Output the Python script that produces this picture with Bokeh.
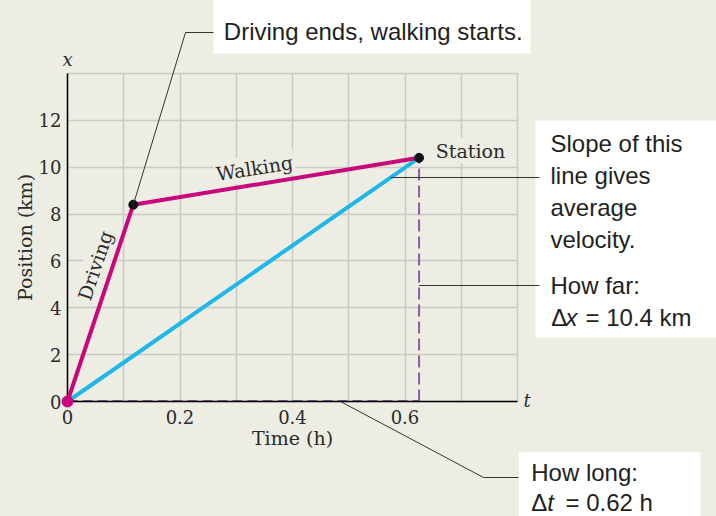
from bokeh.plotting import figure
from bokeh.models import Range1d, FixedTicker, Label, GlobalInlineStyleSheet
from bokeh.core.properties import value
from bokeh.embed import file_html
from bokeh.resources import INLINE

# ---- data ----
trip_t = [0.0, 0.117, 0.625]      # time (h): start, driving ends, station
trip_x = [0.0, 8.4, 10.4]         # position (km)
x_ticks = [0, 0.2, 0.4, 0.6]
x_tick_labels = ["0", "0.2", "0.4", "0.6"]
y_ticks = [0, 2, 4, 6, 8, 10, 12]
x_grid = [0.1, 0.2, 0.3, 0.4, 0.5, 0.6, 0.7]
y_grid = [2, 4, 6, 8, 10, 12]

BG = "#edede3"
GRID = "#c9c9c5"
MAGENTA = "#c8077b"
CYAN = "#1db8e8"
PURPLE = "#8c5aab"
INK = "#231f20"
AXINK = "#2a2a2a"
SERIF = "DejaVu Serif"
SANS = "Liberation Sans"

p = figure(width=716, height=516, x_range=Range1d(0, 0.8), y_range=Range1d(0, 14),
           output_backend="svg", toolbar_location=None,
           min_border_left=67, min_border_right=199, min_border_top=73, min_border_bottom=115,
           background_fill_color=BG, border_fill_color=BG)
p.stylesheets = [GlobalInlineStyleSheet(css="html, body { background-color: %s; }" % BG)]

p.xaxis.ticker = FixedTicker(ticks=x_ticks)
p.xaxis.major_label_overrides = {t: s for t, s in zip(x_ticks, x_tick_labels)}
p.yaxis.ticker = FixedTicker(ticks=y_ticks)
p.xaxis.axis_label = "Time (h)"
p.yaxis.axis_label = "Position (km)"
for ax in (p.xaxis[0], p.yaxis[0]):
    ax.axis_line_color = "black"
    ax.axis_line_width = 1.5
    ax.major_tick_line_color = None
    ax.minor_tick_line_color = None
    ax.major_tick_out = 0
    ax.major_tick_in = 0
    ax.major_label_text_font = SERIF
    ax.major_label_text_font_size = "18px"
    ax.major_label_text_color = AXINK
    ax.axis_label_text_font = SERIF
    ax.axis_label_text_font_style = "normal"
    ax.axis_label_text_font_size = "19px"
    ax.axis_label_text_color = AXINK
p.xaxis.major_label_standoff = 8
p.yaxis.major_label_standoff = 6
p.xaxis.axis_label_standoff = 0
p.yaxis.axis_label_standoff = 0

p.xgrid.ticker = FixedTicker(ticks=x_grid)
p.ygrid.ticker = FixedTicker(ticks=y_grid)
p.grid.grid_line_color = GRID
p.grid.grid_line_width = 1.5
p.outline_line_color = GRID
p.outline_line_width = 1.5

# dashed projections
p.line([trip_t[0], trip_t[-1]], [trip_x[0], trip_x[0]], line_color=PURPLE, line_width=3, line_dash="10 5")
p.line([trip_t[-1], trip_t[-1]], [trip_x[0], trip_x[-1]], line_color=PURPLE, line_width=2, line_dash="12 5")
# average velocity line
p.line([trip_t[0], trip_t[-1]], [trip_x[0], trip_x[-1]], line_color=CYAN, line_width=4, level="overlay")
# trip
p.line(trip_t, trip_x, line_color=MAGENTA, line_width=4, level="overlay")
p.scatter(trip_t[:1], trip_x[:1], size=11, color=MAGENTA, level="overlay")
p.scatter(trip_t[1:], trip_x[1:], size=9, color="#111111", level="overlay")

# white callout boxes (left, right, top, bottom in data units)
p.quad(left=[0.2596, 0.832, 0.8023], right=[0.8231, 1.3, 1.1253],
       top=[17.5, 11.993, -2.164], bottom=[14.853, 2.732, -6.0],
       fill_color="white", line_color=None, level="overlay")

# leader lines
p.segment(x0=[trip_t[1], 0.2098, 0.5745, trip_t[-1], 0.4853, 0.7396],
          y0=[trip_x[1], 15.749, 9.56, 4.951, 0.0, -3.244],
          x1=[0.2098, 0.2596, 0.8391, 0.8391, 0.7396, 0.8018],
          y1=[15.749, 15.749, 9.56, 4.951, -3.244, -3.244],
          line_color="#333333", line_width=1, level="overlay")

def txt(x, y, text, font=SANS, size="24px", style="normal", align="left", color=INK):
    p.text(x=[x], y=[y], text=[text], text_font=value(font), text_font_size=value(size),
           text_font_style=value(style), text_align=value(align), text_baseline=value("middle"),
           text_color=color, level="overlay")

# callout texts (y = vertical middle of each line)
txt(0.2779, 15.796, "Driving ends, walking starts.")
for yy, tx in [(10.999, "Slope of this"), (9.641, "line gives"), (8.284, "average"),
               (6.931, "velocity."), (4.955, "How far:")]:
    txt(0.8587, yy, tx)
txt(0.8599, 3.602, "Δ")
txt(0.8853, 3.602, "x", style="italic")
txt(0.9209, 3.602, "= 10.4 km")
txt(0.8244, -3.013, "How long:")
txt(0.8244, -4.294, "Δ")
txt(0.8528, -4.294, "t", style="italic")
txt(0.8853, -4.294, "= 0.62 h")

# axis-end letters
txt(0, 14.61, "x", font=SERIF, size="18px", style="italic", align="center", color=AXINK)
txt(0.8107, 0.055, "t", font=SERIF, size="18px", style="italic", color=AXINK)

def lab(x, y, text, align="left", angle=0):
    p.add_layout(Label(x=x, y=y, text=text, text_font=SERIF, text_font_size="19px",
                       text_align=align, text_baseline="middle", angle=angle, angle_units="deg",
                       text_color=AXINK, background_fill_color=BG, padding=2))

lab(0.0492, 5.804, "Driving", align="center", angle=71.5)
lab(0.3324, 9.966, "Walking", align="center", angle=9)
lab(0.6512, 10.709, "Station")

open("out.html", "w").write(file_html(p, INLINE))
